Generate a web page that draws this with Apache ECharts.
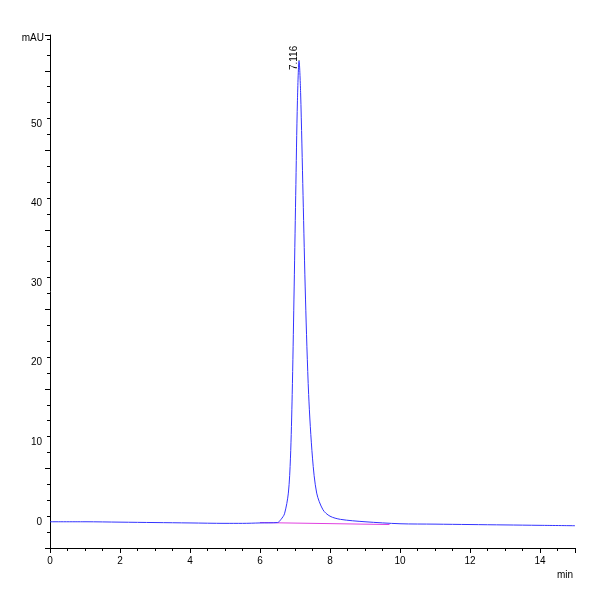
<!DOCTYPE html><html><head><meta charset="utf-8"><script src="https://cdn.jsdelivr.net/npm/echarts@6/dist/echarts.min.js"></script></head><body style="margin:0"><div id="c" style="width:600px;height:600px"></div><script>
const times=[0,1,2,3,4,5,5.5,6,6.5,6.6,6.7,6.81,6.87,6.92,6.97,7.02,7.07,7.116,7.16,7.23,7.3,7.39,7.5,7.62,7.8,8,8.3,9,10,11,12,13,14,15];
const signal=[0,0,-0.05,-0.1,-0.15,-0.2,-0.2,-0.15,-0.1,0.3,1,3.6,8,16,28,41,53,58,54,41,28,16,8,3.6,1.5,0.7,0.3,0,-0.25,-0.3,-0.35,-0.4,-0.45,-0.5];
const baseline=[[6.0,-0.1],[9.7,-0.35]];
const peakLabel='7.116';
const ch=echarts.init(document.getElementById('c'));
ch.setOption({animation:false,
grid:{left:50,right:25,top:35,bottom:52},
xAxis:{type:'value',min:0,max:15,interval:2,name:'min',nameLocation:'end',nameGap:-18,nameTextStyle:{fontSize:10,color:'#000',verticalAlign:'top',padding:[22,0,0,0]},
axisLine:{onZero:false,lineStyle:{color:'#000'}},axisTick:{length:5,lineStyle:{color:'#000'}},minorTick:{show:true,splitNumber:4,length:3,lineStyle:{color:'#000'}},splitLine:{show:false},
axisLabel:{color:'#000',fontSize:10,fontFamily:'Liberation Sans',showMaxLabel:false}},
yAxis:{type:'value',min:-3.3,max:61.2,interval:10,name:'mAU',nameLocation:'end',nameGap:-8,nameTextStyle:{fontSize:10,color:'#000',align:'right',padding:[0,6,0,0]},
axisLine:{lineStyle:{color:'#000'}},axisTick:{length:5,lineStyle:{color:'#000'}},minorTick:{show:true,splitNumber:5,length:3,lineStyle:{color:'#000'}},splitLine:{show:false},
axisLabel:{color:'#000',fontSize:10,fontFamily:'Liberation Sans',customValues:[0,10,20,30,40,50]}},
series:[
{type:'line',data:baseline,symbol:'none',lineStyle:{color:'#e040e0',width:1}},
{type:'line',data:times.map((t,i)=>[t,signal[i]]),symbol:'none',smooth:0.3,lineStyle:{color:'#3333ff',width:1},
markPoint:{symbol:'circle',symbolSize:1,data:[{coord:[7.116,58]}],label:{show:true,formatter:peakLabel,rotate:90,position:'top',distance:2,color:'#000',fontSize:10,fontFamily:'Liberation Sans'}}}
]});
</script></body></html>
